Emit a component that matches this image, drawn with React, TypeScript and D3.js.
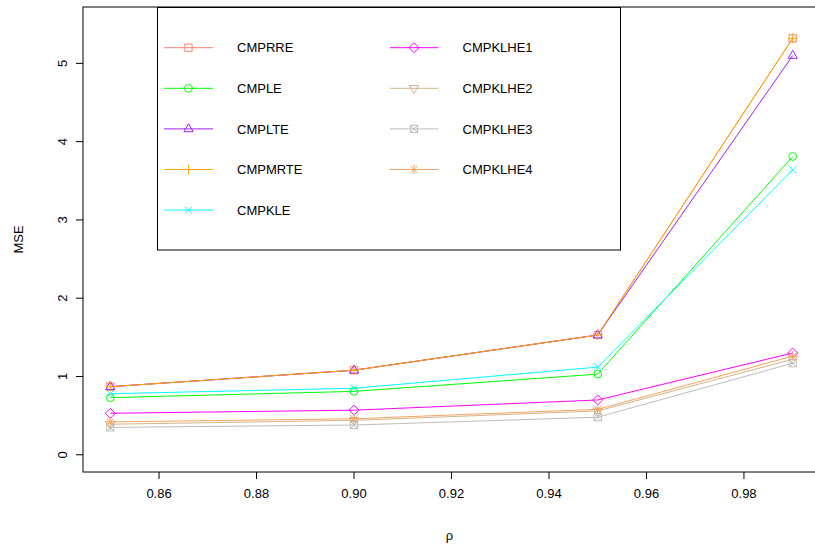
import React from "react";
import * as d3 from "d3";

const rho = [0.85, 0.9, 0.95, 0.99];
const CMPRRE = [0.87, 1.08, 1.53, 5.32];
const CMPLE = [0.73, 0.81, 1.03, 3.81];
const CMPLTE = [0.87, 1.08, 1.53, 5.1];
const CMPMRTE = [0.87, 1.08, 1.53, 5.32];
const CMPKLE = [0.78, 0.85, 1.12, 3.64];
const CMPKLHE1 = [0.53, 0.57, 0.7, 1.3];
const CMPKLHE2 = [0.39, 0.44, 0.56, 1.22];
const CMPKLHE3 = [0.35, 0.38, 0.48, 1.17];
const CMPKLHE4 = [0.42, 0.46, 0.58, 1.26];

const seriesNames = ["CMPRRE", "CMPLE", "CMPLTE", "CMPMRTE", "CMPKLE", "CMPKLHE1", "CMPKLHE2", "CMPKLHE3", "CMPKLHE4"];
const seriesValues = [CMPRRE, CMPLE, CMPLTE, CMPMRTE, CMPKLE, CMPKLHE1, CMPKLHE2, CMPKLHE3, CMPKLHE4];
const seriesColors = ["#FA8072", "#00FF00", "#A020F0", "#FFA500", "#00FFFF", "#FF00FF", "#D2B48C", "#BEBEBE", "#F4A460"];
const seriesPch = [0, 1, 2, 3, 4, 5, 6, 7, 8];

const xTicks = [0.86, 0.88, 0.9, 0.92, 0.94, 0.96, 0.98];
const yTicks = [0, 1, 2, 3, 4, 5];

const W = 815;
const H = 554;
const FONT = "'Liberation Sans', Arial, Helvetica, sans-serif";

function Marker({ pch, x, y, color }: { pch: number; x: number; y: number; color: string }) {
  const p = { fill: "none", stroke: color, strokeWidth: 1 };
  const s = 3.6;
  switch (pch) {
    case 0:
      return <rect x={x - s} y={y - s} width={2 * s} height={2 * s} {...p} />;
    case 1:
      return <circle cx={x} cy={y} r={3.9} {...p} />;
    case 2:
      return <path d={`M${x},${y - 5.2}L${x + 4.6},${y + 2.8}L${x - 4.6},${y + 2.8}Z`} {...p} />;
    case 3:
      return <path d={`M${x - 4.8},${y}H${x + 4.8}M${x},${y - 4.8}V${y + 4.8}`} {...p} />;
    case 4:
      return <path d={`M${x - s},${y - s}L${x + s},${y + s}M${x - s},${y + s}L${x + s},${y - s}`} {...p} />;
    case 5:
      return <path d={`M${x},${y - 5}L${x + 5},${y}L${x},${y + 5}L${x - 5},${y}Z`} {...p} />;
    case 6:
      return <path d={`M${x},${y + 5.2}L${x + 4.6},${y - 2.8}L${x - 4.6},${y - 2.8}Z`} {...p} />;
    case 7:
      return (
        <g>
          <rect x={x - s} y={y - s} width={2 * s} height={2 * s} {...p} />
          <path d={`M${x - s},${y - s}L${x + s},${y + s}M${x - s},${y + s}L${x + s},${y - s}`} {...p} />
        </g>
      );
    case 8:
      return (
        <path
          d={`M${x - 4.8},${y}H${x + 4.8}M${x},${y - 4.8}V${y + 4.8}M${x - s},${y - s}L${x + s},${y + s}M${x - s},${y + s}L${x + s},${y - s}`}
          {...p}
        />
      );
    default:
      return null;
  }
}

export default function App() {
  const left = 83;
  const right = 820;
  const top = 7;
  const bottom = 472;

  const xr = [0.85, 0.99];
  const xpad = (xr[1] - xr[0]) * 0.04;
  const x = d3.scaleLinear().domain([xr[0] - xpad, xr[1] + xpad]).range([left, right]);
  const yr = [0, 5.5];
  const ypad = (yr[1] - yr[0]) * 0.04;
  const y = d3.scaleLinear().domain([yr[0] - ypad, yr[1] + ypad]).range([bottom, top]);

  const line = d3
    .line<number>()
    .x((_, i) => x(rho[i]))
    .y((d) => y(d));

  const legLeft = 157.5;
  const legTop = 7.5;
  const legRight = 620.5;
  const legBottom = 250;
  const rowY = (i: number) => 47.7 + i * 40.6;
  const cols = [
    { x0: 164, x1: 213, px: 188.5, tx: 237 },
    { x0: 390, x1: 438.5, px: 414, tx: 462.5 },
  ];

  return (
    <svg
      width={W}
      height={H}
      style={{ position: "absolute", left: 0, top: 0, background: "#fff" }}
      fontFamily={FONT}
    >
      <rect x={0} y={0} width={W} height={H} fill="#fff" />
      <defs>
        <clipPath id="plotclip">
          <rect x={left} y={top} width={right - left} height={bottom - top} />
        </clipPath>
      </defs>

      <g clipPath="url(#plotclip)">
        {seriesValues.map((vals, si) => (
          <path key={"l" + si} d={line(vals) || ""} fill="none" stroke={seriesColors[si]} strokeWidth={1} />
        ))}
        {seriesValues.map((vals, si) =>
          vals.map((v, i) => (
            <Marker key={"m" + si + "-" + i} pch={seriesPch[si]} x={x(rho[i])} y={y(v)} color={seriesColors[si]} />
          ))
        )}
      </g>

      {/* box */}
      <rect x={left} y={top} width={right - left} height={bottom - top} fill="none" stroke="#000" strokeWidth={1} />

      {/* x axis */}
      {xTicks.map((t) => (
        <g key={"xt" + t}>
          <line x1={x(t)} x2={x(t)} y1={bottom} y2={bottom + 7} stroke="#000" />
          <text x={x(t)} y={498} fontSize={13} textAnchor="middle" fill="#000">
            {t.toFixed(2)}
          </text>
        </g>
      ))}
      {/* y axis */}
      {yTicks.map((t) => (
        <g key={"yt" + t}>
          <line x1={left - 7} x2={left} y1={y(t)} y2={y(t)} stroke="#000" />
          <text
            x={0}
            y={0}
            transform={`translate(67,${y(t)}) rotate(-90)`}
            fontSize={13}
            textAnchor="middle"
            fill="#000"
          >
            {t}
          </text>
        </g>
      ))}

      <text x={(left + right) / 2 - 2} y={540} fontSize={13} textAnchor="middle" fill="#000">
        ρ
      </text>
      <text x={0} y={0} transform={`translate(23,${(top + bottom) / 2}) rotate(-90)`} fontSize={13} textAnchor="middle" fill="#000">
        MSE
      </text>

      {/* legend */}
      <rect x={legLeft} y={legTop} width={legRight - legLeft} height={legBottom - legTop} fill="#fff" stroke="#000" strokeWidth={1} />
      {seriesNames.map((name, si) => {
        const col = cols[si < 5 ? 0 : 1];
        const ry = rowY(si < 5 ? si : si - 5);
        return (
          <g key={"lg" + si}>
            <line x1={col.x0} x2={col.x1} y1={ry} y2={ry} stroke={seriesColors[si]} strokeWidth={1} />
            <Marker pch={seriesPch[si]} x={col.px} y={ry} color={seriesColors[si]} />
            <text x={col.tx} y={ry + 4.6} fontSize={13} fill="#000">
              {name}
            </text>
          </g>
        );
      })}
    </svg>
  );
}
